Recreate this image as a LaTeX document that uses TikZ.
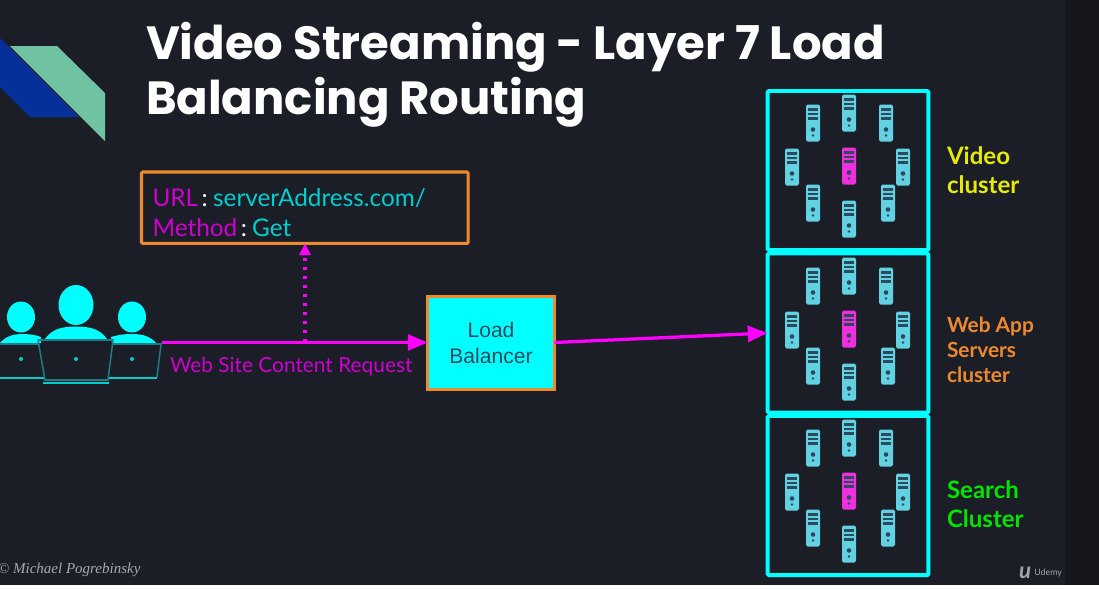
\documentclass[tikz,border=0pt]{standalone}
\usepackage{fontspec}
\setmainfont{Lato}
\newfontfamily\titlefont{Poppins}
\newfontfamily\boxfont{Liberation Sans}
\newfontfamily\signfont{Liberation Serif}
\usetikzlibrary{positioning, arrows.meta}
\definecolor{Slide_Bg}{HTML}{1B1E27}
\definecolor{Slide_Strip}{HTML}{15171C}
\definecolor{Net_Cyan}{HTML}{00FFFF}
\definecolor{Net_Teal}{HTML}{00CDCD}
\definecolor{Net_Edge}{HTML}{1F7C86}
\definecolor{Net_Magenta}{HTML}{FF00FF}
\definecolor{Net_Purple}{HTML}{CF00CF}
\definecolor{Net_Orange}{HTML}{EE8A2E}
\definecolor{Srv_Blue}{HTML}{62D2E2}
\definecolor{Srv_Pink}{HTML}{EE2FDD}
\definecolor{Srv_Dark}{HTML}{2C4A5C}
\definecolor{Logo_Green}{HTML}{70C3A0}
\definecolor{Logo_Blue}{HTML}{05309A}

\begin{document}
\begin{tikzpicture}[
  x=0.03cm, y=-0.03cm,
  every node/.style={inner sep=0pt, outer sep=0pt},
  cluster/.style={draw=Net_Cyan, line width=3.4pt, rounded corners=1pt,
    minimum width=4.82cm, minimum height=4.77cm},
  clulabel/.style={font=\bfseries\fontsize{20.5}{24.7}\selectfont, align=left},
  reqbox/.style={draw=Net_Orange, line width=2.6pt, rounded corners=1pt,
    minimum width=9.8cm, minimum height=2.14cm},
  lbbox/.style={draw=Net_Orange, fill=Net_Cyan, line width=2.6pt, text=Srv_Dark,
    minimum width=3.8cm, minimum height=2.78cm, align=center,
    font=\boxfont\fontsize{18}{21.5}\selectfont},
  arr/.style={-{Triangle[length=17pt, width=13.5pt]}, line width=2.8pt, Net_Magenta},
  dotarr/.style={-{Triangle[length=10pt, width=9.5pt]}, line width=2.6pt, Net_Magenta,
    dash pattern=on 2.6pt off 5.1pt},
  server/.pic={
    \fill[#1, rounded corners=1.3pt] (-7,-18.5) rectangle (7,18.5);
    \foreach \yy in {-13.5,-9,-4.5}
      \draw[Srv_Dark, line width=1.9pt] (-4.7,\yy) -- (4.7,\yy);
    \fill[Srv_Dark] (0,6.5) circle (2.3);
    \fill[Srv_Dark] (0,12.5) circle (1.4);
  }
]
  \useasboundingbox (0,0) rectangle (1099,589);

  % Slide background
  \fill[Slide_Bg] (0,0) rectangle (1065,585);
  \fill[Slide_Strip] (1065,0) rectangle (1099,585);

  % Corner logo
  \fill[Logo_Blue] (0,38) -- (79,117) -- (30,117) -- (0,87) -- cycle;
  \fill[Logo_Green] (10,46) -- (57,46) -- (105,93) -- (105,141) -- cycle;

  % Title
  \node[anchor=north west, text=white, align=left,
    font=\titlefont\bfseries\fontsize{39.7}{47}\selectfont] (title) at (146,22)
    {Video Streaming - Layer 7 Load\\Balancing Routing};

  % Users
  \fill[Net_Cyan] (76,305) ellipse (17.5 and 20);
  \fill[Net_Cyan] (21,317) ellipse (14 and 15.5);
  \fill[Net_Cyan] (132,317) ellipse (14 and 15.5);
  \fill[Net_Cyan] (45,339) .. controls (52,329) and (62,326.5) .. (76,326.5)
    .. controls (90,326.5) and (100,329) .. (107,339) -- cycle;
  \fill[Net_Cyan] (0,343) .. controls (6,336) and (14,334) .. (21,334)
    .. controls (30,334) and (36,335) .. (41,337) -- (41,343) -- cycle;
  \fill[Net_Cyan] (111,337) .. controls (118,335) and (124,334) .. (132,334)
    .. controls (142,334) and (150,336) .. (156,343) -- (112,343) -- cycle;

  % Laptops
  \draw[Net_Edge, line width=1.3pt] (0,344) -- (39,344);
  \draw[Net_Edge, line width=1.3pt] (38,340) -- (113,340) -- (108,380) -- (45,380) -- cycle;
  \draw[Net_Edge, line width=1.3pt] (113,344) -- (161,344) -- (157,377);
  \draw[Net_Teal, line width=1.8pt] (0,378) -- (44,378);
  \draw[Net_Teal, line width=1.8pt] (43,383) -- (109,383);
  \draw[Net_Teal, line width=1.8pt] (109,378) -- (157,378);
  \foreach \xx/\yy in {21/359, 76/359, 132/359}
    \fill[Net_Teal] (\xx,\yy) circle (2);

  % Request details
  \node[reqbox, anchor=north west] (req) at (141.5,172) {};
  \node[anchor=west, font=\fontsize{20.8}{25.5}\selectfont, align=left] (reqtxt)
    at ([xshift=0.33cm, yshift=-0.14cm]req.west)
    {\textcolor{Net_Purple}{URL}\hspace{3pt}\textcolor{white}{:}\hspace{4.5pt}\textcolor{Net_Teal}{serverAddress.com/}\\
     \textcolor{Net_Purple}{Method}\hspace{3pt}\textcolor{white}{:}\hspace{4.5pt}\textcolor{Net_Teal}{Get}};

  % Load balancer
  \node[lbbox] (lb) at (491,343) {Load\\Balancer};

  % Clusters
  \node[cluster] (vidclu) at (848,170.5) {};
  \node[cluster] (webclu) at (848,333) {};
  \node[cluster] (seaclu) at (848,495.5) {};

  % Servers, same layout in all three
  \foreach \dy in {0,163,325} {
    \begin{scope}[yshift=-\dy*0.03cm]
      \foreach \xx/\yy in {849/113, 813/123, 886/123, 792/167, 903/167, 813/203, 888/203, 849/219}
        \pic at (\xx,\yy) {server=Srv_Blue};
      \pic at (849,166) {server=Srv_Pink};
    \end{scope}
  }

  % Cluster labels
  \node[clulabel, right=0.56cm of vidclu, text=yellow!90!green] (vidlab) {Video\\cluster};
  \node[clulabel, right=0.56cm of webclu, text=Net_Orange, yshift=-0.5cm,
    font=\bfseries\fontsize{17.8}{21.3}\selectfont] (weblab) {Web App\\Servers\\cluster};
  \node[clulabel, right=0.56cm of seaclu, text=green!90!black, yshift=-0.26cm] (sealab) {Search\\Cluster};

  % Arrows
  \coordinate (usr) at (162,342.5);
  \coordinate (split) at (305,342.5);
  \draw[arr] (usr) -- (lb.west |- usr);
  \draw[dotarr] (split) -- (split |- req.south);
  \draw[arr] (lb.east |- usr) -- (webclu.west);

  % Labels
  \node[anchor=west, text=Net_Purple, font=\fontsize{17.8}{22}\selectfont] (reqlab) at (170,367)
    {Web Site Content Request};
  \node[anchor=west, text=white!62!Slide_Bg, font=\signfont\itshape\fontsize{12.8}{15}\selectfont] (sign)
    at (-2,570) {© Michael Pogrebinsky};
  \node[anchor=west, text=white!60!Slide_Bg, font=\bfseries\itshape\fontsize{19}{15}\selectfont] (umark)
    at (1019,573) {u};
  \node[right=0.1cm of umark, text=white!60!Slide_Bg, font=\fontsize{7.5}{8}\selectfont] (ulab) {Udemy};
\end{tikzpicture}
\end{document}
